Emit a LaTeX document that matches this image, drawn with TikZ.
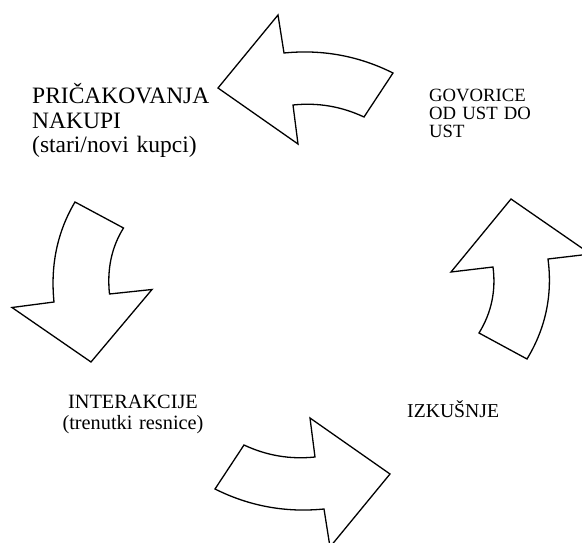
\documentclass[tikz,border=0pt]{standalone}
\usepackage{fontspec}
\setmainfont{Liberation Serif}
\tikzset{
  bigarrow/.style={draw=black, fill=white, line width=1.3pt, line join=miter},
  lbl/.style={inner sep=0pt, anchor=base west, align=left}
}
\begin{document}
\begin{tikzpicture}[x=1pt,y=-1pt]
\useasboundingbox (0,0) rectangle (582,543);
\clip (0,0) rectangle (582,543);
% top arrow (pointing left)
\draw[bigarrow] (218,88) -- (278,15) -- (284,53)
  .. controls (322.2,49.2) and (358.6,55.8) .. (393,73) -- (364,117)
  .. controls (341.4,106.4) and (317.8,102.4) .. (293,105) -- (298,144) -- cycle;
% right arrow (pointing up)
\draw[bigarrow] (511,199) -- (590.5,254) -- (548,259)
  .. controls (552.7,294.8) and (545.7,328.2) .. (527,359) -- (479,333)
  .. controls (491.5,312.7) and (496.1,290.7) .. (493,267) -- (451,272) -- cycle;
% bottom arrow (pointing right)
\draw[bigarrow] (390,474) -- (330,547) -- (324,509)
  .. controls (285.8,512.8) and (249.4,506.2) .. (215,489) -- (244,445)
  .. controls (266.6,455.6) and (290.2,459.6) .. (315,457) -- (310,418) -- cycle;
% left arrow (pointing down)
\draw[bigarrow] (91,362) -- (12,307.5) -- (54,302)
  .. controls (50.3,265.2) and (57.3,231.8) .. (75,202) -- (123.5,228)
  .. controls (111.5,247.3) and (106.9,269.3) .. (109.5,294) -- (152,289.5) -- cycle;
% labels
\node[lbl, text width=200pt, font=\fontsize{23.5}{25}\selectfont] (expect) at (32,103)
  {PRIČAKOVANJA\\NAKUPI\\(stari/novi kupci)};
\node[lbl, text width=120pt, font=\fontsize{18.7}{18}\selectfont] (rumor) at (429,102)
  {GOVORICE\\OD UST DO\\UST};
\node[inner sep=0pt, anchor=base, align=center, text width=200pt, font=\fontsize{20.3}{21}\selectfont] (inter) at (133,408)
  {INTERAKCIJE\\(trenutki resnice)};
\node[lbl, font=\fontsize{19.7}{22}\selectfont] (exper) at (407,417) {IZKUŠNJE};
\end{tikzpicture}
\end{document}
